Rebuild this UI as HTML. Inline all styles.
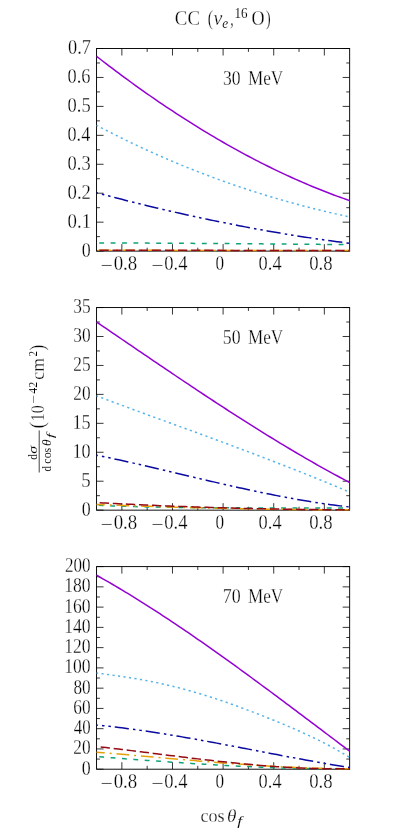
<!DOCTYPE html>
<html><head><meta charset="utf-8"><title>CC cross sections</title>
<style>html,body{margin:0;padding:0;background:#fff;}svg{display:block;}text{font-family:"Liberation Serif", serif;fill:#000;stroke:#fff;}.it{font-style:italic;}</style></head><body>
<svg width="394" height="834" viewBox="0 0 394 834">
<rect width="394" height="834" fill="#fff"/>
<g opacity="0.999">
<g>
<path d="M121.86 251.1 v-7 M121.86 48.5 v7 M147.17 251.1 v-3.4 M147.17 48.5 v3.4 M172.48 251.1 v-7 M172.48 48.5 v7 M197.79 251.1 v-3.4 M197.79 48.5 v3.4 M223.1 251.1 v-7 M223.1 48.5 v7 M248.41 251.1 v-3.4 M248.41 48.5 v3.4 M273.72 251.1 v-7 M273.72 48.5 v7 M299.03 251.1 v-3.4 M299.03 48.5 v3.4 M324.34 251.1 v-7 M324.34 48.5 v7 M96.55 251.1 h7 M349.65 251.1 h-7 M96.55 236.63 h3.4 M349.65 236.63 h-3.4 M96.55 222.16 h7 M349.65 222.16 h-7 M96.55 207.69 h3.4 M349.65 207.69 h-3.4 M96.55 193.21 h7 M349.65 193.21 h-7 M96.55 178.74 h3.4 M349.65 178.74 h-3.4 M96.55 164.27 h7 M349.65 164.27 h-7 M96.55 149.8 h3.4 M349.65 149.8 h-3.4 M96.55 135.33 h7 M349.65 135.33 h-7 M96.55 120.86 h3.4 M349.65 120.86 h-3.4 M96.55 106.39 h7 M349.65 106.39 h-7 M96.55 91.91 h3.4 M349.65 91.91 h-3.4 M96.55 77.44 h7 M349.65 77.44 h-7 M96.55 62.97 h3.4 M349.65 62.97 h-3.4 M96.55 48.5 h7 M349.65 48.5 h-7" fill="none" stroke="#000" stroke-width="0.8"/>
<rect x="96.55" y="48.5" width="253.1" height="202.6" fill="none" stroke="#000" stroke-width="0.95"/>
<path d="M96.55 242.91 L99.71 242.92 L102.88 242.93 L106.04 242.94 L109.21 242.96 L112.37 242.97 L115.53 242.98 L118.7 242.99 L121.86 243.01 L125.02 243.02 L128.19 243.03 L131.35 243.05 L134.52 243.06 L137.68 243.08 L140.84 243.09 L144.01 243.11 L147.17 243.12 L150.33 243.14 L153.5 243.16 L156.66 243.17 L159.82 243.19 L162.99 243.2 L166.15 243.22 L169.32 243.24 L172.48 243.26 L175.64 243.27 L178.81 243.29 L181.97 243.31 L185.13 243.33 L188.3 243.35 L191.46 243.37 L194.63 243.39 L197.79 243.41 L200.95 243.43 L204.12 243.45 L207.28 243.47 L210.44 243.49 L213.61 243.51 L216.77 243.53 L219.94 243.55 L223.1 243.57 L226.26 243.6 L229.43 243.62 L232.59 243.64 L235.75 243.67 L238.92 243.69 L242.08 243.71 L245.25 243.74 L248.41 243.76 L251.57 243.78 L254.74 243.81 L257.9 243.83 L261.06 243.86 L264.23 243.88 L267.39 243.91 L270.56 243.94 L273.72 243.96 L276.88 243.99 L280.05 244.02 L283.21 244.04 L286.38 244.07 L289.54 244.1 L292.7 244.13 L295.87 244.15 L299.03 244.18 L302.19 244.21 L305.36 244.24 L308.52 244.27 L311.69 244.3 L314.85 244.33 L318.01 244.36 L321.18 244.39 L324.34 244.42 L327.5 244.45 L330.67 244.48 L333.83 244.51 L337 244.55 L340.16 244.58 L343.32 244.61 L346.49 244.64 L349.65 244.67" fill="none" stroke="#0FA278" stroke-width="1.5" stroke-dasharray="4.85 6.55" stroke-dashoffset="8.7"/>
<path d="M96.55 192.72 L99.71 193.57 L102.88 194.41 L106.04 195.24 L109.21 196.07 L112.37 196.9 L115.53 197.72 L118.7 198.54 L121.86 199.35 L125.02 200.15 L128.19 200.96 L131.35 201.75 L134.52 202.54 L137.68 203.33 L140.84 204.11 L144.01 204.89 L147.17 205.66 L150.33 206.42 L153.5 207.18 L156.66 207.94 L159.82 208.69 L162.99 209.43 L166.15 210.17 L169.32 210.91 L172.48 211.63 L175.64 212.36 L178.81 213.08 L181.97 213.79 L185.13 214.5 L188.3 215.2 L191.46 215.9 L194.63 216.59 L197.79 217.27 L200.95 217.95 L204.12 218.63 L207.28 219.3 L210.44 219.96 L213.61 220.62 L216.77 221.27 L219.94 221.91 L223.1 222.56 L226.26 223.19 L229.43 223.82 L232.59 224.44 L235.75 225.06 L238.92 225.67 L242.08 226.28 L245.25 226.88 L248.41 227.48 L251.57 228.06 L254.74 228.65 L257.9 229.22 L261.06 229.79 L264.23 230.36 L267.39 230.92 L270.56 231.47 L273.72 232.02 L276.88 232.56 L280.05 233.1 L283.21 233.62 L286.38 234.15 L289.54 234.66 L292.7 235.17 L295.87 235.68 L299.03 236.18 L302.19 236.67 L305.36 237.15 L308.52 237.63 L311.69 238.11 L314.85 238.57 L318.01 239.03 L321.18 239.49 L324.34 239.93 L327.5 240.38 L330.67 240.81 L333.83 241.24 L337 241.66 L340.16 242.08 L343.32 242.49 L346.49 242.89 L349.65 243.28" fill="none" stroke="#0A0AA0" stroke-width="1.5" stroke-dasharray="14.2 4.2 2.5 3.9 2.5 3.9" stroke-dashoffset="12.9"/>
<path d="M96.55 125.32 L99.71 126.98 L102.88 128.63 L106.04 130.26 L109.21 131.89 L112.37 133.49 L115.53 135.09 L118.7 136.66 L121.86 138.23 L125.02 139.78 L128.19 141.31 L131.35 142.84 L134.52 144.34 L137.68 145.84 L140.84 147.32 L144.01 148.79 L147.17 150.24 L150.33 151.68 L153.5 153.1 L156.66 154.52 L159.82 155.91 L162.99 157.3 L166.15 158.67 L169.32 160.03 L172.48 161.37 L175.64 162.71 L178.81 164.02 L181.97 165.33 L185.13 166.62 L188.3 167.9 L191.46 169.17 L194.63 170.42 L197.79 171.66 L200.95 172.89 L204.12 174.1 L207.28 175.3 L210.44 176.49 L213.61 177.67 L216.77 178.83 L219.94 179.98 L223.1 181.12 L226.26 182.25 L229.43 183.36 L232.59 184.46 L235.75 185.55 L238.92 186.63 L242.08 187.69 L245.25 188.74 L248.41 189.78 L251.57 190.81 L254.74 191.83 L257.9 192.83 L261.06 193.82 L264.23 194.8 L267.39 195.77 L270.56 196.73 L273.72 197.67 L276.88 198.6 L280.05 199.52 L283.21 200.43 L286.38 201.33 L289.54 202.22 L292.7 203.09 L295.87 203.96 L299.03 204.81 L302.19 205.65 L305.36 206.48 L308.52 207.3 L311.69 208.11 L314.85 208.9 L318.01 209.69 L321.18 210.46 L324.34 211.23 L327.5 211.98 L330.67 212.72 L333.83 213.45 L337 214.17 L340.16 214.88 L343.32 215.58 L346.49 216.27 L349.65 216.94" fill="none" stroke="#56B4E9" stroke-width="1.5" stroke-dasharray="2.2 3.35" stroke-dashoffset="0.6"/>
<path d="M96.55 56.32 L99.71 58.78 L102.88 61.22 L106.04 63.65 L109.21 66.06 L112.37 68.45 L115.53 70.84 L118.7 73.2 L121.86 75.55 L125.02 77.88 L128.19 80.2 L131.35 82.5 L134.52 84.79 L137.68 87.06 L140.84 89.32 L144.01 91.56 L147.17 93.78 L150.33 95.99 L153.5 98.18 L156.66 100.36 L159.82 102.52 L162.99 104.66 L166.15 106.79 L169.32 108.9 L172.48 110.99 L175.64 113.07 L178.81 115.13 L181.97 117.18 L185.13 119.21 L188.3 121.22 L191.46 123.22 L194.63 125.19 L197.79 127.16 L200.95 129.1 L204.12 131.03 L207.28 132.94 L210.44 134.84 L213.61 136.72 L216.77 138.58 L219.94 140.42 L223.1 142.25 L226.26 144.06 L229.43 145.85 L232.59 147.62 L235.75 149.38 L238.92 151.12 L242.08 152.84 L245.25 154.55 L248.41 156.23 L251.57 157.9 L254.74 159.55 L257.9 161.19 L261.06 162.8 L264.23 164.4 L267.39 165.98 L270.56 167.54 L273.72 169.09 L276.88 170.61 L280.05 172.12 L283.21 173.61 L286.38 175.08 L289.54 176.54 L292.7 177.97 L295.87 179.39 L299.03 180.79 L302.19 182.17 L305.36 183.53 L308.52 184.87 L311.69 186.19 L314.85 187.5 L318.01 188.78 L321.18 190.05 L324.34 191.3 L327.5 192.53 L330.67 193.74 L333.83 194.93 L337 196.1 L340.16 197.26 L343.32 198.39 L346.49 199.5 L349.65 200.6" fill="none" stroke="#9400D3" stroke-width="1.5"/>
<path d="M96.55 250.35 L99.71 250.35 L102.88 250.35 L106.04 250.35 L109.21 250.35 L112.37 250.35 L115.53 250.36 L118.7 250.36 L121.86 250.36 L125.02 250.36 L128.19 250.36 L131.35 250.36 L134.52 250.36 L137.68 250.37 L140.84 250.37 L144.01 250.37 L147.17 250.37 L150.33 250.37 L153.5 250.37 L156.66 250.37 L159.82 250.38 L162.99 250.38 L166.15 250.38 L169.32 250.38 L172.48 250.38 L175.64 250.38 L178.81 250.39 L181.97 250.39 L185.13 250.39 L188.3 250.39 L191.46 250.39 L194.63 250.39 L197.79 250.39 L200.95 250.4 L204.12 250.4 L207.28 250.4 L210.44 250.4 L213.61 250.4 L216.77 250.4 L219.94 250.4 L223.1 250.41 L226.26 250.41 L229.43 250.41 L232.59 250.41 L235.75 250.41 L238.92 250.41 L242.08 250.41 L245.25 250.42 L248.41 250.42 L251.57 250.42 L254.74 250.42 L257.9 250.42 L261.06 250.42 L264.23 250.42 L267.39 250.43 L270.56 250.43 L273.72 250.43 L276.88 250.43 L280.05 250.43 L283.21 250.43 L286.38 250.43 L289.54 250.44 L292.7 250.44 L295.87 250.44 L299.03 250.44 L302.19 250.44 L305.36 250.44 L308.52 250.44 L311.69 250.45 L314.85 250.45 L318.01 250.45 L321.18 250.45 L324.34 250.45 L327.5 250.45 L330.67 250.45 L333.83 250.46 L337 250.46 L340.16 250.46 L343.32 250.46 L346.49 250.46 L349.65 250.46" fill="none" stroke="#E6A00A" stroke-width="1.5" stroke-dasharray="12.7 5 2 4.8" stroke-dashoffset="22.75"/>
<path d="M96.55 250.32 L99.71 250.32 L102.88 250.32 L106.04 250.32 L109.21 250.32 L112.37 250.33 L115.53 250.33 L118.7 250.33 L121.86 250.33 L125.02 250.33 L128.19 250.33 L131.35 250.33 L134.52 250.34 L137.68 250.34 L140.84 250.34 L144.01 250.34 L147.17 250.34 L150.33 250.34 L153.5 250.34 L156.66 250.35 L159.82 250.35 L162.99 250.35 L166.15 250.35 L169.32 250.35 L172.48 250.35 L175.64 250.35 L178.81 250.36 L181.97 250.36 L185.13 250.36 L188.3 250.36 L191.46 250.36 L194.63 250.36 L197.79 250.36 L200.95 250.37 L204.12 250.37 L207.28 250.37 L210.44 250.37 L213.61 250.37 L216.77 250.37 L219.94 250.37 L223.1 250.38 L226.26 250.38 L229.43 250.38 L232.59 250.38 L235.75 250.38 L238.92 250.38 L242.08 250.39 L245.25 250.39 L248.41 250.39 L251.57 250.39 L254.74 250.39 L257.9 250.39 L261.06 250.39 L264.23 250.4 L267.39 250.4 L270.56 250.4 L273.72 250.4 L276.88 250.4 L280.05 250.4 L283.21 250.4 L286.38 250.41 L289.54 250.41 L292.7 250.41 L295.87 250.41 L299.03 250.41 L302.19 250.41 L305.36 250.41 L308.52 250.42 L311.69 250.42 L314.85 250.42 L318.01 250.42 L321.18 250.42 L324.34 250.42 L327.5 250.42 L330.67 250.43 L333.83 250.43 L337 250.43 L340.16 250.43 L343.32 250.43 L346.49 250.43 L349.65 250.43" fill="none" stroke="#960A14" stroke-width="1.5" stroke-dasharray="9.3 3.8" stroke-dashoffset="10.25"/>
<text x="81.67" y="256.65" font-size="20" stroke-width="0.28" textLength="8.97" lengthAdjust="spacingAndGlyphs">0</text>
<text x="67.53" y="227.71" font-size="20" stroke-width="0.28" textLength="23.55" lengthAdjust="spacingAndGlyphs">0.1</text>
<text x="67.54" y="198.76" font-size="20" stroke-width="0.28" textLength="23.45" lengthAdjust="spacingAndGlyphs">0.2</text>
<text x="67.55" y="169.82" font-size="20" stroke-width="0.28" textLength="23.13" lengthAdjust="spacingAndGlyphs">0.3</text>
<text x="67.56" y="140.88" font-size="20" stroke-width="0.28" textLength="22.67" lengthAdjust="spacingAndGlyphs">0.4</text>
<text x="67.55" y="111.94" font-size="20" stroke-width="0.28" textLength="23.13" lengthAdjust="spacingAndGlyphs">0.5</text>
<text x="67.55" y="82.99" font-size="20" stroke-width="0.28" textLength="22.95" lengthAdjust="spacingAndGlyphs">0.6</text>
<text x="68" y="54.05" font-size="20" stroke-width="0.28" textLength="22.93" lengthAdjust="spacingAndGlyphs">0.7</text>
<text x="100.56" y="271.74" font-size="20" stroke-width="0.28" textLength="12.48" lengthAdjust="spacingAndGlyphs">−</text>
<text x="113.64" y="269.55" font-size="20" stroke-width="0.28" textLength="23.64" lengthAdjust="spacingAndGlyphs">0.8</text>
<text x="151.18" y="271.74" font-size="20" stroke-width="0.28" textLength="12.48" lengthAdjust="spacingAndGlyphs">−</text>
<text x="164.27" y="269.55" font-size="20" stroke-width="0.28" textLength="23.2" lengthAdjust="spacingAndGlyphs">0.4</text>
<text x="215.59" y="269.55" font-size="20" stroke-width="0.28" textLength="8.61" lengthAdjust="spacingAndGlyphs">0</text>
<text x="258.62" y="269.55" font-size="20" stroke-width="0.28" textLength="22.99" lengthAdjust="spacingAndGlyphs">0.4</text>
<text x="309.23" y="269.55" font-size="20" stroke-width="0.28" textLength="23.43" lengthAdjust="spacingAndGlyphs">0.8</text>
<text x="223.01" y="84.5" font-size="20" stroke-width="0.28" textLength="17.61" lengthAdjust="spacingAndGlyphs">30</text>
<text x="248.01" y="84.5" font-size="20" stroke-width="0.28" textLength="35.24" lengthAdjust="spacingAndGlyphs">MeV</text>
</g>
<g>
<path d="M121.86 510.15 v-7 M121.86 307.55 v7 M147.17 510.15 v-3.4 M147.17 307.55 v3.4 M172.48 510.15 v-7 M172.48 307.55 v7 M197.79 510.15 v-3.4 M197.79 307.55 v3.4 M223.1 510.15 v-7 M223.1 307.55 v7 M248.41 510.15 v-3.4 M248.41 307.55 v3.4 M273.72 510.15 v-7 M273.72 307.55 v7 M299.03 510.15 v-3.4 M299.03 307.55 v3.4 M324.34 510.15 v-7 M324.34 307.55 v7 M96.55 510.15 h7 M349.65 510.15 h-7 M96.55 495.68 h3.4 M349.65 495.68 h-3.4 M96.55 481.21 h7 M349.65 481.21 h-7 M96.55 466.74 h3.4 M349.65 466.74 h-3.4 M96.55 452.26 h7 M349.65 452.26 h-7 M96.55 437.79 h3.4 M349.65 437.79 h-3.4 M96.55 423.32 h7 M349.65 423.32 h-7 M96.55 408.85 h3.4 M349.65 408.85 h-3.4 M96.55 394.38 h7 M349.65 394.38 h-7 M96.55 379.91 h3.4 M349.65 379.91 h-3.4 M96.55 365.44 h7 M349.65 365.44 h-7 M96.55 350.96 h3.4 M349.65 350.96 h-3.4 M96.55 336.49 h7 M349.65 336.49 h-7 M96.55 322.02 h3.4 M349.65 322.02 h-3.4 M96.55 307.55 h7 M349.65 307.55 h-7" fill="none" stroke="#000" stroke-width="0.8"/>
<rect x="96.55" y="307.55" width="253.1" height="202.6" fill="none" stroke="#000" stroke-width="0.95"/>
<path d="M96.55 505.23 L99.71 505.37 L102.88 505.51 L106.04 505.64 L109.21 505.77 L112.37 505.89 L115.53 506 L118.7 506.11 L121.86 506.22 L125.02 506.32 L128.19 506.42 L131.35 506.51 L134.52 506.6 L137.68 506.68 L140.84 506.76 L144.01 506.84 L147.17 506.91 L150.33 506.98 L153.5 507.04 L156.66 507.11 L159.82 507.17 L162.99 507.22 L166.15 507.27 L169.32 507.32 L172.48 507.37 L175.64 507.42 L178.81 507.46 L181.97 507.5 L185.13 507.53 L188.3 507.57 L191.46 507.6 L194.63 507.63 L197.79 507.66 L200.95 507.68 L204.12 507.71 L207.28 507.73 L210.44 507.75 L213.61 507.77 L216.77 507.79 L219.94 507.8 L223.1 507.82 L226.26 507.83 L229.43 507.84 L232.59 507.86 L235.75 507.87 L238.92 507.87 L242.08 507.88 L245.25 507.89 L248.41 507.9 L251.57 507.9 L254.74 507.91 L257.9 507.91 L261.06 507.91 L264.23 507.92 L267.39 507.92 L270.56 507.92 L273.72 507.92 L276.88 507.92 L280.05 507.92 L283.21 507.92 L286.38 507.92 L289.54 507.92 L292.7 507.92 L295.87 507.92 L299.03 507.92 L302.19 507.92 L305.36 507.92 L308.52 507.92 L311.69 507.91 L314.85 507.91 L318.01 507.91 L321.18 507.91 L324.34 507.91 L327.5 507.91 L330.67 507.9 L333.83 507.9 L337 507.9 L340.16 507.9 L343.32 507.9 L346.49 507.89 L349.65 507.89" fill="none" stroke="#0FA278" stroke-width="1.5" stroke-dasharray="4.85 6.55" stroke-dashoffset="9.2"/>
<path d="M96.55 455.16 L99.71 455.81 L102.88 456.46 L106.04 457.12 L109.21 457.79 L112.37 458.47 L115.53 459.15 L118.7 459.84 L121.86 460.53 L125.02 461.23 L128.19 461.94 L131.35 462.65 L134.52 463.36 L137.68 464.08 L140.84 464.8 L144.01 465.53 L147.17 466.26 L150.33 466.99 L153.5 467.73 L156.66 468.47 L159.82 469.21 L162.99 469.95 L166.15 470.7 L169.32 471.44 L172.48 472.19 L175.64 472.94 L178.81 473.69 L181.97 474.44 L185.13 475.19 L188.3 475.93 L191.46 476.68 L194.63 477.43 L197.79 478.18 L200.95 478.92 L204.12 479.67 L207.28 480.41 L210.44 481.15 L213.61 481.88 L216.77 482.62 L219.94 483.35 L223.1 484.07 L226.26 484.8 L229.43 485.52 L232.59 486.23 L235.75 486.94 L238.92 487.65 L242.08 488.34 L245.25 489.04 L248.41 489.73 L251.57 490.41 L254.74 491.09 L257.9 491.76 L261.06 492.42 L264.23 493.07 L267.39 493.72 L270.56 494.36 L273.72 494.99 L276.88 495.62 L280.05 496.23 L283.21 496.84 L286.38 497.43 L289.54 498.02 L292.7 498.6 L295.87 499.16 L299.03 499.72 L302.19 500.27 L305.36 500.8 L308.52 501.32 L311.69 501.84 L314.85 502.34 L318.01 502.82 L321.18 503.3 L324.34 503.76 L327.5 504.21 L330.67 504.65 L333.83 505.07 L337 505.48 L340.16 505.87 L343.32 506.25 L346.49 506.62 L349.65 506.97" fill="none" stroke="#0A0AA0" stroke-width="1.5" stroke-dasharray="14.2 4.2 2.5 3.9 2.5 3.9" stroke-dashoffset="12.9"/>
<path d="M96.55 395.88 L99.71 397.07 L102.88 398.26 L106.04 399.44 L109.21 400.62 L112.37 401.79 L115.53 402.97 L118.7 404.14 L121.86 405.31 L125.02 406.48 L128.19 407.65 L131.35 408.81 L134.52 409.97 L137.68 411.14 L140.84 412.3 L144.01 413.46 L147.17 414.61 L150.33 415.77 L153.5 416.93 L156.66 418.08 L159.82 419.24 L162.99 420.39 L166.15 421.54 L169.32 422.7 L172.48 423.85 L175.64 425.01 L178.81 426.16 L181.97 427.31 L185.13 428.47 L188.3 429.62 L191.46 430.78 L194.63 431.94 L197.79 433.09 L200.95 434.25 L204.12 435.41 L207.28 436.57 L210.44 437.74 L213.61 438.9 L216.77 440.07 L219.94 441.23 L223.1 442.4 L226.26 443.57 L229.43 444.75 L232.59 445.92 L235.75 447.1 L238.92 448.28 L242.08 449.47 L245.25 450.65 L248.41 451.84 L251.57 453.04 L254.74 454.23 L257.9 455.43 L261.06 456.63 L264.23 457.84 L267.39 459.05 L270.56 460.26 L273.72 461.48 L276.88 462.7 L280.05 463.93 L283.21 465.16 L286.38 466.39 L289.54 467.63 L292.7 468.87 L295.87 470.12 L299.03 471.38 L302.19 472.63 L305.36 473.9 L308.52 475.17 L311.69 476.44 L314.85 477.72 L318.01 479.01 L321.18 480.3 L324.34 481.6 L327.5 482.9 L330.67 484.21 L333.83 485.53 L337 486.85 L340.16 488.18 L343.32 489.52 L346.49 490.86 L349.65 492.21" fill="none" stroke="#56B4E9" stroke-width="1.5" stroke-dasharray="2.2 3.35" stroke-dashoffset="0.6"/>
<path d="M96.55 322.01 L99.71 324.16 L102.88 326.32 L106.04 328.47 L109.21 330.62 L112.37 332.78 L115.53 334.94 L118.7 337.09 L121.86 339.25 L125.02 341.41 L128.19 343.56 L131.35 345.72 L134.52 347.87 L137.68 350.03 L140.84 352.18 L144.01 354.33 L147.17 356.49 L150.33 358.63 L153.5 360.78 L156.66 362.93 L159.82 365.07 L162.99 367.21 L166.15 369.35 L169.32 371.49 L172.48 373.62 L175.64 375.75 L178.81 377.88 L181.97 380 L185.13 382.12 L188.3 384.24 L191.46 386.35 L194.63 388.46 L197.79 390.56 L200.95 392.66 L204.12 394.75 L207.28 396.84 L210.44 398.92 L213.61 401 L216.77 403.07 L219.94 405.14 L223.1 407.2 L226.26 409.25 L229.43 411.3 L232.59 413.34 L235.75 415.38 L238.92 417.41 L242.08 419.43 L245.25 421.44 L248.41 423.45 L251.57 425.45 L254.74 427.44 L257.9 429.42 L261.06 431.39 L264.23 433.36 L267.39 435.31 L270.56 437.26 L273.72 439.2 L276.88 441.13 L280.05 443.05 L283.21 444.96 L286.38 446.86 L289.54 448.75 L292.7 450.63 L295.87 452.5 L299.03 454.36 L302.19 456.21 L305.36 458.05 L308.52 459.88 L311.69 461.69 L314.85 463.49 L318.01 465.29 L321.18 467.07 L324.34 468.83 L327.5 470.59 L330.67 472.33 L333.83 474.06 L337 475.78 L340.16 477.48 L343.32 479.18 L346.49 480.85 L349.65 482.52" fill="none" stroke="#9400D3" stroke-width="1.5"/>
<path d="M96.55 504.48 L99.71 504.6 L102.88 504.72 L106.04 504.84 L109.21 504.95 L112.37 505.07 L115.53 505.19 L118.7 505.3 L121.86 505.41 L125.02 505.52 L128.19 505.63 L131.35 505.74 L134.52 505.85 L137.68 505.96 L140.84 506.06 L144.01 506.16 L147.17 506.27 L150.33 506.37 L153.5 506.47 L156.66 506.57 L159.82 506.66 L162.99 506.76 L166.15 506.85 L169.32 506.95 L172.48 507.04 L175.64 507.13 L178.81 507.22 L181.97 507.31 L185.13 507.39 L188.3 507.48 L191.46 507.56 L194.63 507.64 L197.79 507.72 L200.95 507.8 L204.12 507.88 L207.28 507.96 L210.44 508.03 L213.61 508.11 L216.77 508.18 L219.94 508.25 L223.1 508.32 L226.26 508.39 L229.43 508.45 L232.59 508.52 L235.75 508.58 L238.92 508.64 L242.08 508.7 L245.25 508.76 L248.41 508.82 L251.57 508.87 L254.74 508.93 L257.9 508.98 L261.06 509.03 L264.23 509.08 L267.39 509.13 L270.56 509.18 L273.72 509.22 L276.88 509.26 L280.05 509.31 L283.21 509.35 L286.38 509.38 L289.54 509.42 L292.7 509.46 L295.87 509.49 L299.03 509.52 L302.19 509.55 L305.36 509.58 L308.52 509.61 L311.69 509.63 L314.85 509.66 L318.01 509.68 L321.18 509.7 L324.34 509.72 L327.5 509.73 L330.67 509.75 L333.83 509.76 L337 509.77 L340.16 509.78 L343.32 509.79 L346.49 509.8 L349.65 509.8" fill="none" stroke="#E6A00A" stroke-width="1.5" stroke-dasharray="12.7 5 2 4.8" stroke-dashoffset="4.5"/>
<path d="M96.55 502.57 L99.71 502.74 L102.88 502.91 L106.04 503.08 L109.21 503.25 L112.37 503.41 L115.53 503.57 L118.7 503.73 L121.86 503.89 L125.02 504.05 L128.19 504.2 L131.35 504.36 L134.52 504.51 L137.68 504.65 L140.84 504.8 L144.01 504.94 L147.17 505.08 L150.33 505.22 L153.5 505.36 L156.66 505.5 L159.82 505.63 L162.99 505.76 L166.15 505.89 L169.32 506.01 L172.48 506.14 L175.64 506.26 L178.81 506.38 L181.97 506.5 L185.13 506.62 L188.3 506.73 L191.46 506.84 L194.63 506.95 L197.79 507.06 L200.95 507.16 L204.12 507.27 L207.28 507.37 L210.44 507.47 L213.61 507.57 L216.77 507.66 L219.94 507.75 L223.1 507.84 L226.26 507.93 L229.43 508.02 L232.59 508.1 L235.75 508.19 L238.92 508.27 L242.08 508.35 L245.25 508.42 L248.41 508.5 L251.57 508.57 L254.74 508.64 L257.9 508.7 L261.06 508.77 L264.23 508.83 L267.39 508.89 L270.56 508.95 L273.72 509.01 L276.88 509.07 L280.05 509.12 L283.21 509.17 L286.38 509.22 L289.54 509.26 L292.7 509.31 L295.87 509.35 L299.03 509.39 L302.19 509.43 L305.36 509.46 L308.52 509.5 L311.69 509.53 L314.85 509.56 L318.01 509.59 L321.18 509.61 L324.34 509.64 L327.5 509.66 L330.67 509.68 L333.83 509.69 L337 509.71 L340.16 509.72 L343.32 509.73 L346.49 509.74 L349.65 509.74" fill="none" stroke="#960A14" stroke-width="1.5" stroke-dasharray="9.3 3.8" stroke-dashoffset="9.95"/>
<text x="81.67" y="515.7" font-size="20" stroke-width="0.28" textLength="8.97" lengthAdjust="spacingAndGlyphs">0</text>
<text x="81.25" y="486.76" font-size="20" stroke-width="0.28" textLength="9.43" lengthAdjust="spacingAndGlyphs">5</text>
<text x="72.45" y="457.81" font-size="20" stroke-width="0.28" textLength="18.19" lengthAdjust="spacingAndGlyphs">10</text>
<text x="72.45" y="428.87" font-size="20" stroke-width="0.28" textLength="18.21" lengthAdjust="spacingAndGlyphs">15</text>
<text x="73.29" y="399.93" font-size="20" stroke-width="0.28" textLength="17.32" lengthAdjust="spacingAndGlyphs">20</text>
<text x="73.29" y="370.99" font-size="20" stroke-width="0.28" textLength="17.34" lengthAdjust="spacingAndGlyphs">25</text>
<text x="73.22" y="342.04" font-size="20" stroke-width="0.28" textLength="17.39" lengthAdjust="spacingAndGlyphs">30</text>
<text x="73.22" y="313.1" font-size="20" stroke-width="0.28" textLength="17.41" lengthAdjust="spacingAndGlyphs">35</text>
<text x="100.56" y="530.79" font-size="20" stroke-width="0.28" textLength="12.48" lengthAdjust="spacingAndGlyphs">−</text>
<text x="113.64" y="528.6" font-size="20" stroke-width="0.28" textLength="23.64" lengthAdjust="spacingAndGlyphs">0.8</text>
<text x="151.18" y="530.79" font-size="20" stroke-width="0.28" textLength="12.48" lengthAdjust="spacingAndGlyphs">−</text>
<text x="164.27" y="528.6" font-size="20" stroke-width="0.28" textLength="23.2" lengthAdjust="spacingAndGlyphs">0.4</text>
<text x="215.59" y="528.6" font-size="20" stroke-width="0.28" textLength="8.61" lengthAdjust="spacingAndGlyphs">0</text>
<text x="258.62" y="528.6" font-size="20" stroke-width="0.28" textLength="22.99" lengthAdjust="spacingAndGlyphs">0.4</text>
<text x="309.23" y="528.6" font-size="20" stroke-width="0.28" textLength="23.43" lengthAdjust="spacingAndGlyphs">0.8</text>
<text x="222.81" y="343.55" font-size="20" stroke-width="0.28" textLength="17.81" lengthAdjust="spacingAndGlyphs">50</text>
<text x="248.01" y="343.55" font-size="20" stroke-width="0.28" textLength="35.24" lengthAdjust="spacingAndGlyphs">MeV</text>
</g>
<g>
<path d="M121.86 769.2 v-7 M121.86 566.6 v7 M147.17 769.2 v-3.4 M147.17 566.6 v3.4 M172.48 769.2 v-7 M172.48 566.6 v7 M197.79 769.2 v-3.4 M197.79 566.6 v3.4 M223.1 769.2 v-7 M223.1 566.6 v7 M248.41 769.2 v-3.4 M248.41 566.6 v3.4 M273.72 769.2 v-7 M273.72 566.6 v7 M299.03 769.2 v-3.4 M299.03 566.6 v3.4 M324.34 769.2 v-7 M324.34 566.6 v7 M96.55 769.2 h7 M349.65 769.2 h-7 M96.55 759.07 h3.4 M349.65 759.07 h-3.4 M96.55 748.94 h7 M349.65 748.94 h-7 M96.55 738.81 h3.4 M349.65 738.81 h-3.4 M96.55 728.68 h7 M349.65 728.68 h-7 M96.55 718.55 h3.4 M349.65 718.55 h-3.4 M96.55 708.42 h7 M349.65 708.42 h-7 M96.55 698.29 h3.4 M349.65 698.29 h-3.4 M96.55 688.16 h7 M349.65 688.16 h-7 M96.55 678.03 h3.4 M349.65 678.03 h-3.4 M96.55 667.9 h7 M349.65 667.9 h-7 M96.55 657.77 h3.4 M349.65 657.77 h-3.4 M96.55 647.64 h7 M349.65 647.64 h-7 M96.55 637.51 h3.4 M349.65 637.51 h-3.4 M96.55 627.38 h7 M349.65 627.38 h-7 M96.55 617.25 h3.4 M349.65 617.25 h-3.4 M96.55 607.12 h7 M349.65 607.12 h-7 M96.55 596.99 h3.4 M349.65 596.99 h-3.4 M96.55 586.86 h7 M349.65 586.86 h-7 M96.55 576.73 h3.4 M349.65 576.73 h-3.4 M96.55 566.6 h7 M349.65 566.6 h-7" fill="none" stroke="#000" stroke-width="0.8"/>
<rect x="96.55" y="566.6" width="253.1" height="202.6" fill="none" stroke="#000" stroke-width="0.95"/>
<path d="M96.55 756.64 L99.71 756.87 L102.88 757.11 L106.04 757.34 L109.21 757.58 L112.37 757.82 L115.53 758.05 L118.7 758.29 L121.86 758.52 L125.02 758.76 L128.19 758.99 L131.35 759.22 L134.52 759.46 L137.68 759.69 L140.84 759.92 L144.01 760.15 L147.17 760.38 L150.33 760.6 L153.5 760.83 L156.66 761.06 L159.82 761.28 L162.99 761.5 L166.15 761.72 L169.32 761.94 L172.48 762.16 L175.64 762.38 L178.81 762.59 L181.97 762.8 L185.13 763.01 L188.3 763.22 L191.46 763.42 L194.63 763.63 L197.79 763.83 L200.95 764.02 L204.12 764.22 L207.28 764.41 L210.44 764.6 L213.61 764.79 L216.77 764.97 L219.94 765.15 L223.1 765.33 L226.26 765.5 L229.43 765.67 L232.59 765.84 L235.75 766 L238.92 766.16 L242.08 766.32 L245.25 766.47 L248.41 766.62 L251.57 766.76 L254.74 766.9 L257.9 767.04 L261.06 767.17 L264.23 767.3 L267.39 767.42 L270.56 767.54 L273.72 767.66 L276.88 767.77 L280.05 767.87 L283.21 767.97 L286.38 768.07 L289.54 768.16 L292.7 768.24 L295.87 768.32 L299.03 768.4 L302.19 768.47 L305.36 768.53 L308.52 768.59 L311.69 768.64 L314.85 768.69 L318.01 768.73 L321.18 768.76 L324.34 768.79 L327.5 768.81 L330.67 768.83 L333.83 768.84 L337 768.84 L340.16 768.84 L343.32 768.83 L346.49 768.82 L349.65 768.79" fill="none" stroke="#0FA278" stroke-width="1.5" stroke-dasharray="4.85 6.55" stroke-dashoffset="8.7"/>
<path d="M96.55 725.04 L99.71 725.35 L102.88 725.67 L106.04 726 L109.21 726.35 L112.37 726.71 L115.53 727.07 L118.7 727.45 L121.86 727.84 L125.02 728.24 L128.19 728.65 L131.35 729.07 L134.52 729.49 L137.68 729.93 L140.84 730.37 L144.01 730.83 L147.17 731.29 L150.33 731.76 L153.5 732.24 L156.66 732.73 L159.82 733.22 L162.99 733.72 L166.15 734.23 L169.32 734.75 L172.48 735.27 L175.64 735.8 L178.81 736.33 L181.97 736.87 L185.13 737.42 L188.3 737.97 L191.46 738.52 L194.63 739.08 L197.79 739.65 L200.95 740.22 L204.12 740.79 L207.28 741.37 L210.44 741.95 L213.61 742.54 L216.77 743.13 L219.94 743.72 L223.1 744.31 L226.26 744.91 L229.43 745.51 L232.59 746.11 L235.75 746.71 L238.92 747.32 L242.08 747.92 L245.25 748.53 L248.41 749.13 L251.57 749.74 L254.74 750.35 L257.9 750.96 L261.06 751.57 L264.23 752.18 L267.39 752.78 L270.56 753.39 L273.72 753.99 L276.88 754.6 L280.05 755.2 L283.21 755.8 L286.38 756.4 L289.54 757 L292.7 757.59 L295.87 758.18 L299.03 758.77 L302.19 759.36 L305.36 759.94 L308.52 760.52 L311.69 761.09 L314.85 761.66 L318.01 762.23 L321.18 762.79 L324.34 763.34 L327.5 763.89 L330.67 764.44 L333.83 764.98 L337 765.51 L340.16 766.04 L343.32 766.56 L346.49 767.08 L349.65 767.58" fill="none" stroke="#0A0AA0" stroke-width="1.5" stroke-dasharray="14.2 4.2 2.5 3.9 2.5 3.9" stroke-dashoffset="12.9"/>
<path d="M96.55 672.97 L99.71 673.39 L102.88 673.82 L106.04 674.25 L109.21 674.68 L112.37 675.11 L115.53 675.56 L118.7 676.01 L121.86 676.47 L125.02 676.95 L128.19 677.44 L131.35 677.94 L134.52 678.46 L137.68 679 L140.84 679.56 L144.01 680.13 L147.17 680.73 L150.33 681.34 L153.5 681.98 L156.66 682.63 L159.82 683.31 L162.99 684.01 L166.15 684.73 L169.32 685.48 L172.48 686.24 L175.64 687.03 L178.81 687.84 L181.97 688.67 L185.13 689.52 L188.3 690.39 L191.46 691.28 L194.63 692.2 L197.79 693.13 L200.95 694.08 L204.12 695.05 L207.28 696.04 L210.44 697.05 L213.61 698.07 L216.77 699.11 L219.94 700.17 L223.1 701.24 L226.26 702.33 L229.43 703.43 L232.59 704.55 L235.75 705.68 L238.92 706.83 L242.08 707.99 L245.25 709.16 L248.41 710.34 L251.57 711.54 L254.74 712.75 L257.9 713.97 L261.06 715.2 L264.23 716.44 L267.39 717.7 L270.56 718.97 L273.72 720.25 L276.88 721.55 L280.05 722.86 L283.21 724.18 L286.38 725.52 L289.54 726.87 L292.7 728.24 L295.87 729.63 L299.03 731.04 L302.19 732.46 L305.36 733.91 L308.52 735.38 L311.69 736.87 L314.85 738.39 L318.01 739.93 L321.18 741.51 L324.34 743.12 L327.5 744.77 L330.67 746.45 L333.83 748.17 L337 749.94 L340.16 751.75 L343.32 753.61 L346.49 755.52 L349.65 757.49" fill="none" stroke="#56B4E9" stroke-width="1.5" stroke-dasharray="2.2 3.35" stroke-dashoffset="0.6"/>
<path d="M96.55 575.21 L99.71 576.99 L102.88 578.78 L106.04 580.6 L109.21 582.42 L112.37 584.27 L115.53 586.13 L118.7 588 L121.86 589.89 L125.02 591.8 L128.19 593.72 L131.35 595.66 L134.52 597.61 L137.68 599.57 L140.84 601.55 L144.01 603.54 L147.17 605.55 L150.33 607.56 L153.5 609.6 L156.66 611.64 L159.82 613.7 L162.99 615.77 L166.15 617.85 L169.32 619.94 L172.48 622.04 L175.64 624.16 L178.81 626.29 L181.97 628.43 L185.13 630.57 L188.3 632.73 L191.46 634.9 L194.63 637.08 L197.79 639.27 L200.95 641.47 L204.12 643.68 L207.28 645.89 L210.44 648.12 L213.61 650.35 L216.77 652.6 L219.94 654.85 L223.1 657.1 L226.26 659.37 L229.43 661.64 L232.59 663.92 L235.75 666.21 L238.92 668.5 L242.08 670.8 L245.25 673.11 L248.41 675.42 L251.57 677.74 L254.74 680.07 L257.9 682.39 L261.06 684.73 L264.23 687.07 L267.39 689.41 L270.56 691.76 L273.72 694.11 L276.88 696.47 L280.05 698.83 L283.21 701.19 L286.38 703.55 L289.54 705.92 L292.7 708.29 L295.87 710.67 L299.03 713.04 L302.19 715.42 L305.36 717.8 L308.52 720.18 L311.69 722.56 L314.85 724.95 L318.01 727.33 L321.18 729.72 L324.34 732.1 L327.5 734.49 L330.67 736.87 L333.83 739.26 L337 741.64 L340.16 744.03 L343.32 746.41 L346.49 748.79 L349.65 751.17" fill="none" stroke="#9400D3" stroke-width="1.5"/>
<path d="M96.55 752.18 L99.71 752.44 L102.88 752.7 L106.04 752.96 L109.21 753.22 L112.37 753.48 L115.53 753.75 L118.7 754.02 L121.86 754.29 L125.02 754.56 L128.19 754.83 L131.35 755.11 L134.52 755.38 L137.68 755.66 L140.84 755.93 L144.01 756.21 L147.17 756.49 L150.33 756.77 L153.5 757.05 L156.66 757.33 L159.82 757.6 L162.99 757.88 L166.15 758.16 L169.32 758.44 L172.48 758.72 L175.64 758.99 L178.81 759.27 L181.97 759.54 L185.13 759.81 L188.3 760.09 L191.46 760.36 L194.63 760.62 L197.79 760.89 L200.95 761.16 L204.12 761.42 L207.28 761.68 L210.44 761.94 L213.61 762.19 L216.77 762.44 L219.94 762.69 L223.1 762.94 L226.26 763.18 L229.43 763.42 L232.59 763.66 L235.75 763.89 L238.92 764.12 L242.08 764.35 L245.25 764.57 L248.41 764.79 L251.57 765 L254.74 765.21 L257.9 765.42 L261.06 765.62 L264.23 765.81 L267.39 766 L270.56 766.18 L273.72 766.36 L276.88 766.54 L280.05 766.71 L283.21 766.87 L286.38 767.03 L289.54 767.18 L292.7 767.32 L295.87 767.46 L299.03 767.59 L302.19 767.71 L305.36 767.83 L308.52 767.94 L311.69 768.05 L314.85 768.14 L318.01 768.23 L321.18 768.32 L324.34 768.39 L327.5 768.46 L330.67 768.52 L333.83 768.57 L337 768.61 L340.16 768.64 L343.32 768.67 L346.49 768.69 L349.65 768.69" fill="none" stroke="#E6A00A" stroke-width="1.5" stroke-dasharray="12.7 5 2 4.8" stroke-dashoffset="4.5"/>
<path d="M96.55 746.51 L99.71 746.86 L102.88 747.23 L106.04 747.59 L109.21 747.96 L112.37 748.33 L115.53 748.71 L118.7 749.09 L121.86 749.47 L125.02 749.85 L128.19 750.24 L131.35 750.63 L134.52 751.02 L137.68 751.42 L140.84 751.81 L144.01 752.21 L147.17 752.6 L150.33 753 L153.5 753.4 L156.66 753.8 L159.82 754.2 L162.99 754.59 L166.15 754.99 L169.32 755.39 L172.48 755.78 L175.64 756.18 L178.81 756.57 L181.97 756.96 L185.13 757.35 L188.3 757.74 L191.46 758.12 L194.63 758.5 L197.79 758.88 L200.95 759.26 L204.12 759.63 L207.28 760 L210.44 760.36 L213.61 760.72 L216.77 761.08 L219.94 761.43 L223.1 761.77 L226.26 762.11 L229.43 762.45 L232.59 762.78 L235.75 763.1 L238.92 763.42 L242.08 763.73 L245.25 764.03 L248.41 764.33 L251.57 764.62 L254.74 764.9 L257.9 765.18 L261.06 765.44 L264.23 765.7 L267.39 765.95 L270.56 766.19 L273.72 766.43 L276.88 766.65 L280.05 766.86 L283.21 767.07 L286.38 767.26 L289.54 767.45 L292.7 767.62 L295.87 767.78 L299.03 767.94 L302.19 768.08 L305.36 768.21 L308.52 768.33 L311.69 768.43 L314.85 768.53 L318.01 768.61 L321.18 768.68 L324.34 768.73 L327.5 768.78 L330.67 768.81 L333.83 768.82 L337 768.83 L340.16 768.82 L343.32 768.79 L346.49 768.75 L349.65 768.69" fill="none" stroke="#960A14" stroke-width="1.5" stroke-dasharray="9.3 3.8" stroke-dashoffset="8.95"/>
<text x="81.67" y="774.75" font-size="20" stroke-width="0.28" textLength="8.97" lengthAdjust="spacingAndGlyphs">0</text>
<text x="73.29" y="754.49" font-size="20" stroke-width="0.28" textLength="17.32" lengthAdjust="spacingAndGlyphs">20</text>
<text x="73.72" y="734.23" font-size="20" stroke-width="0.28" textLength="16.87" lengthAdjust="spacingAndGlyphs">40</text>
<text x="73.31" y="713.97" font-size="20" stroke-width="0.28" textLength="17.3" lengthAdjust="spacingAndGlyphs">60</text>
<text x="73.39" y="693.71" font-size="20" stroke-width="0.28" textLength="17.21" lengthAdjust="spacingAndGlyphs">80</text>
<text x="64.2" y="673.45" font-size="20" stroke-width="0.28" textLength="26.42" lengthAdjust="spacingAndGlyphs">100</text>
<text x="64.2" y="653.19" font-size="20" stroke-width="0.28" textLength="26.42" lengthAdjust="spacingAndGlyphs">120</text>
<text x="64.2" y="632.93" font-size="20" stroke-width="0.28" textLength="26.42" lengthAdjust="spacingAndGlyphs">140</text>
<text x="64.2" y="612.67" font-size="20" stroke-width="0.28" textLength="26.42" lengthAdjust="spacingAndGlyphs">160</text>
<text x="64.2" y="592.41" font-size="20" stroke-width="0.28" textLength="26.42" lengthAdjust="spacingAndGlyphs">180</text>
<text x="65" y="572.15" font-size="20" stroke-width="0.28" textLength="25.6" lengthAdjust="spacingAndGlyphs">200</text>
<text x="100.56" y="789.84" font-size="20" stroke-width="0.28" textLength="12.48" lengthAdjust="spacingAndGlyphs">−</text>
<text x="113.64" y="787.65" font-size="20" stroke-width="0.28" textLength="23.64" lengthAdjust="spacingAndGlyphs">0.8</text>
<text x="151.18" y="789.84" font-size="20" stroke-width="0.28" textLength="12.48" lengthAdjust="spacingAndGlyphs">−</text>
<text x="164.27" y="787.65" font-size="20" stroke-width="0.28" textLength="23.2" lengthAdjust="spacingAndGlyphs">0.4</text>
<text x="215.59" y="787.65" font-size="20" stroke-width="0.28" textLength="8.61" lengthAdjust="spacingAndGlyphs">0</text>
<text x="258.62" y="787.65" font-size="20" stroke-width="0.28" textLength="22.99" lengthAdjust="spacingAndGlyphs">0.4</text>
<text x="309.23" y="787.65" font-size="20" stroke-width="0.28" textLength="23.43" lengthAdjust="spacingAndGlyphs">0.8</text>
<text x="222.67" y="602.6" font-size="20" stroke-width="0.28" textLength="17.97" lengthAdjust="spacingAndGlyphs">70</text>
<text x="248.01" y="602.6" font-size="20" stroke-width="0.28" textLength="35.24" lengthAdjust="spacingAndGlyphs">MeV</text>
</g>
<text x="174.83" y="25.4" font-size="20" stroke-width="0.28" textLength="25.11" lengthAdjust="spacingAndGlyphs">CC</text>
<text x="207.82" y="25.2" font-size="21.4" stroke-width="0.3" textLength="5.19" lengthAdjust="spacingAndGlyphs">(</text>
<text x="213.43" y="25.4" font-size="20" stroke-width="0.28" textLength="8.77" lengthAdjust="spacingAndGlyphs" class="it">ν</text>
<text x="222.29" y="28" font-size="14" stroke-width="0.09" textLength="5.91" lengthAdjust="spacingAndGlyphs" class="it">e</text>
<text x="230.19" y="25.4" font-size="20" stroke-width="0.28" textLength="3.36" lengthAdjust="spacingAndGlyphs">,</text>
<text x="234.45" y="17.9" font-size="14" stroke-width="0.09" textLength="13.03" lengthAdjust="spacingAndGlyphs">16</text>
<text x="251.56" y="25.4" font-size="20" stroke-width="0.28" textLength="13.09" lengthAdjust="spacingAndGlyphs">O</text>
<text x="265.95" y="25.2" font-size="21.4" stroke-width="0.3" textLength="4.67" lengthAdjust="spacingAndGlyphs">)</text>
<text x="200.41" y="821.5" font-size="18.3" stroke-width="0.26" textLength="24.14" lengthAdjust="spacingAndGlyphs">cos</text>
<text x="227.06" y="821.5" font-size="19.2" stroke-width="0.27" textLength="9.5" lengthAdjust="spacingAndGlyphs" class="it">θ</text>
<text x="237.3" y="825.2" font-size="12.5" stroke-width="0.08" textLength="4.88" lengthAdjust="spacingAndGlyphs" class="it">f</text>
<g transform="rotate(-90)">
<path d="M-472.5 39.2 H-430.4" stroke="#000" stroke-width="0.75" fill="none"/>
<text x="-459.71" y="36.6" font-size="12.7" stroke-width="0.08" textLength="5.65" lengthAdjust="spacingAndGlyphs">d</text>
<text x="-453.78" y="36.6" font-size="12.7" stroke-width="0.08" textLength="7.87" lengthAdjust="spacingAndGlyphs" class="it">σ</text>
<text x="-471.39" y="50.6" font-size="12.7" stroke-width="0.08" textLength="5.42" lengthAdjust="spacingAndGlyphs">d</text>
<text x="-463.65" y="50.6" font-size="12.7" stroke-width="0.08" textLength="15.88" lengthAdjust="spacingAndGlyphs">cos</text>
<text x="-446.05" y="50.6" font-size="12.7" stroke-width="0.08" textLength="6.57" lengthAdjust="spacingAndGlyphs" class="it">θ</text>
<text x="-438.3" y="54" font-size="10" stroke-width="0.06" textLength="4.88" lengthAdjust="spacingAndGlyphs" class="it">f</text>
<text x="-428.56" y="44.25" font-size="20.7" stroke-width="0.29" textLength="6.48" lengthAdjust="spacingAndGlyphs">(</text>
<text x="-421.3" y="44" font-size="18.9" stroke-width="0.26" textLength="15.9" lengthAdjust="spacingAndGlyphs">10</text>
<text x="-403.87" y="37.88" font-size="13.5" stroke-width="0.09" textLength="8.73" lengthAdjust="spacingAndGlyphs">−</text>
<text x="-393.63" y="36.7" font-size="13.5" stroke-width="0.09" textLength="11.89" lengthAdjust="spacingAndGlyphs">42</text>
<text x="-379.67" y="44" font-size="18.9" stroke-width="0.26" textLength="21.55" lengthAdjust="spacingAndGlyphs">cm</text>
<text x="-356.58" y="36.7" font-size="13.5" stroke-width="0.09" textLength="5.49" lengthAdjust="spacingAndGlyphs">2</text>
<text x="-350.45" y="44.25" font-size="20.7" stroke-width="0.29" textLength="5.7" lengthAdjust="spacingAndGlyphs">)</text>
</g>
</g>
</svg></body></html>
